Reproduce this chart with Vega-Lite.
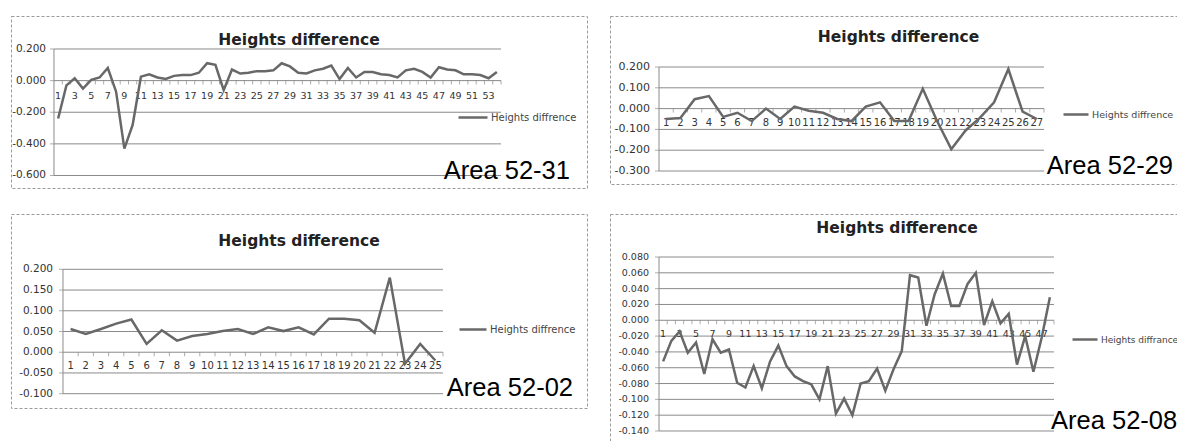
{
  "$schema": "https://vega.github.io/schema/vega-lite/v6.json",
  "background": "white",
  "padding": {"left": 10, "top": 15, "right": 0, "bottom": 0},
  "columns": 2,
  "spacing": {"row": 26, "column": 23},
  "bounds": "flush",
  "datasets": {
    "s1": [{"i":1,"v":-0.24},{"i":2,"v":-0.03},{"i":3,"v":0.015},{"i":4,"v":-0.05},{"i":5,"v":0.005},{"i":6,"v":0.02},{"i":7,"v":0.08},{"i":8,"v":-0.07},{"i":9,"v":-0.43},{"i":10,"v":-0.28},{"i":11,"v":0.025},{"i":12,"v":0.04},{"i":13,"v":0.02},{"i":14,"v":0.01},{"i":15,"v":0.03},{"i":16,"v":0.035},{"i":17,"v":0.035},{"i":18,"v":0.05},{"i":19,"v":0.11},{"i":20,"v":0.10},{"i":21,"v":-0.06},{"i":22,"v":0.07},{"i":23,"v":0.045},{"i":24,"v":0.05},{"i":25,"v":0.06},{"i":26,"v":0.06},{"i":27,"v":0.065},{"i":28,"v":0.11},{"i":29,"v":0.09},{"i":30,"v":0.05},{"i":31,"v":0.045},{"i":32,"v":0.065},{"i":33,"v":0.075},{"i":34,"v":0.095},{"i":35,"v":0.01},{"i":36,"v":0.08},{"i":37,"v":0.02},{"i":38,"v":0.055},{"i":39,"v":0.055},{"i":40,"v":0.04},{"i":41,"v":0.035},{"i":42,"v":0.02},{"i":43,"v":0.065},{"i":44,"v":0.075},{"i":45,"v":0.055},{"i":46,"v":0.02},{"i":47,"v":0.085},{"i":48,"v":0.07},{"i":49,"v":0.065},{"i":50,"v":0.04},{"i":51,"v":0.04},{"i":52,"v":0.035},{"i":53,"v":0.015},{"i":54,"v":0.055}],
    "g1": [{"v":0.2,"t":"0.200"},{"v":0,"t":"0.000"},{"v":-0.2,"t":"-0.200"},{"v":-0.4,"t":"-0.400"},{"v":-0.6,"t":"-0.600"}],
    "s2": [{"i":1,"v":-0.05},{"i":2,"v":-0.045},{"i":3,"v":0.045},{"i":4,"v":0.06},{"i":5,"v":-0.04},{"i":6,"v":-0.02},{"i":7,"v":-0.06},{"i":8,"v":0.0},{"i":9,"v":-0.05},{"i":10,"v":0.01},{"i":11,"v":-0.01},{"i":12,"v":-0.02},{"i":13,"v":-0.05},{"i":14,"v":-0.06},{"i":15,"v":0.01},{"i":16,"v":0.03},{"i":17,"v":-0.06},{"i":18,"v":-0.06},{"i":19,"v":0.095},{"i":20,"v":-0.06},{"i":21,"v":-0.195},{"i":22,"v":-0.105},{"i":23,"v":-0.045},{"i":24,"v":0.03},{"i":25,"v":0.19},{"i":26,"v":-0.015},{"i":27,"v":-0.05}],
    "g2": [{"v":0.2,"t":"0.200"},{"v":0.1,"t":"0.100"},{"v":0,"t":"0.000"},{"v":-0.1,"t":"-0.100"},{"v":-0.2,"t":"-0.200"},{"v":-0.3,"t":"-0.300"}],
    "s3": [{"i":1,"v":0.056},{"i":2,"v":0.044},{"i":3,"v":0.056},{"i":4,"v":0.069},{"i":5,"v":0.079},{"i":6,"v":0.02},{"i":7,"v":0.053},{"i":8,"v":0.028},{"i":9,"v":0.039},{"i":10,"v":0.044},{"i":11,"v":0.051},{"i":12,"v":0.056},{"i":13,"v":0.044},{"i":14,"v":0.06},{"i":15,"v":0.051},{"i":16,"v":0.06},{"i":17,"v":0.043},{"i":18,"v":0.081},{"i":19,"v":0.081},{"i":20,"v":0.077},{"i":21,"v":0.047},{"i":22,"v":0.18},{"i":23,"v":-0.028},{"i":24,"v":0.02},{"i":25,"v":-0.02}],
    "g3": [{"v":0.2,"t":"0.200"},{"v":0.15,"t":"0.150"},{"v":0.1,"t":"0.100"},{"v":0.05,"t":"0.050"},{"v":0,"t":"0.000"},{"v":-0.05,"t":"-0.050"},{"v":-0.1,"t":"-0.100"}],
    "s4": [{"i":1,"v":-0.052},{"i":2,"v":-0.026},{"i":3,"v":-0.014},{"i":4,"v":-0.041},{"i":5,"v":-0.028},{"i":6,"v":-0.068},{"i":7,"v":-0.024},{"i":8,"v":-0.041},{"i":9,"v":-0.037},{"i":10,"v":-0.079},{"i":11,"v":-0.085},{"i":12,"v":-0.058},{"i":13,"v":-0.086},{"i":14,"v":-0.052},{"i":15,"v":-0.032},{"i":16,"v":-0.058},{"i":17,"v":-0.071},{"i":18,"v":-0.077},{"i":19,"v":-0.081},{"i":20,"v":-0.1},{"i":21,"v":-0.058},{"i":22,"v":-0.118},{"i":23,"v":-0.099},{"i":24,"v":-0.12},{"i":25,"v":-0.08},{"i":26,"v":-0.077},{"i":27,"v":-0.061},{"i":28,"v":-0.089},{"i":29,"v":-0.062},{"i":30,"v":-0.039},{"i":31,"v":0.057},{"i":32,"v":0.054},{"i":33,"v":-0.007},{"i":34,"v":0.033},{"i":35,"v":0.059},{"i":36,"v":0.018},{"i":37,"v":0.018},{"i":38,"v":0.046},{"i":39,"v":0.06},{"i":40,"v":-0.006},{"i":41,"v":0.024},{"i":42,"v":-0.004},{"i":43,"v":0.008},{"i":44,"v":-0.056},{"i":45,"v":-0.02},{"i":46,"v":-0.065},{"i":47,"v":-0.022},{"i":48,"v":0.029}],
    "g4": [{"v":0.08,"t":"0.080"},{"v":0.06,"t":"0.060"},{"v":0.04,"t":"0.040"},{"v":0.02,"t":"0.020"},{"v":0,"t":"0.000"},{"v":-0.02,"t":"-0.020"},{"v":-0.04,"t":"-0.040"},{"v":-0.06,"t":"-0.060"},{"v":-0.08,"t":"-0.080"},{"v":-0.1,"t":"-0.100"},{"v":-0.12,"t":"-0.120"},{"v":-0.14,"t":"-0.140"}],
    "one": [{}]
  },
  "concat": [
    {
      "width": 576, "height": 172,
      "view": {"stroke": "#9a9a9a", "strokeDash": [3, 2], "strokeWidth": 1},
      "title": {"text": "Heights difference", "anchor": "middle", "frame": "group", "offset": -44.5, "baseline": "alphabetic", "dx": 0, "font": "DejaVu Sans", "fontSize": 15.5, "fontWeight": "bold", "color": "#222"},
      "layer": [
        {"data": {"name": "g1"}, "mark": {"type": "rule", "color": "#8a8a8a", "strokeWidth": 1},
         "encoding": {"x": {"datum": 0.5, "type": "quantitative", "scale": {"domain": [-4.6946, 64.889], "nice": false, "zero": false}, "axis": null}, "x2": {"datum": 54.5},
                      "y": {"field": "v", "type": "quantitative", "scale": {"domain": [-0.6791, 0.4087], "nice": false, "zero": false}, "axis": null}}},
        {"data": {"name": "one"}, "mark": {"type": "rule", "color": "#8a8a8a", "strokeWidth": 1},
         "encoding": {"x": {"datum": 0.5, "type": "quantitative", "scale": {"domain": [-4.6946, 64.889], "nice": false, "zero": false}, "axis": null},
                      "y": {"datum": 0.2, "type": "quantitative", "scale": {"domain": [-0.6791, 0.4087], "nice": false, "zero": false}, "axis": null}, "y2": {"datum": -0.6}}},
        {"data": {"name": "g1"}, "mark": {"type": "tick", "orient": "horizontal", "size": 4, "thickness": 1, "color": "#8a8a8a", "xOffset": -2},
         "encoding": {"x": {"datum": 0.5, "type": "quantitative", "scale": {"domain": [-4.6946, 64.889], "nice": false, "zero": false}, "axis": null},
                      "y": {"field": "v", "type": "quantitative", "scale": {"domain": [-0.6791, 0.4087], "nice": false, "zero": false}, "axis": null}}},
        {"data": {"name": "g1"}, "mark": {"type": "text", "align": "right", "baseline": "middle", "dx": -8, "font": "DejaVu Sans", "fontSize": 10.5, "color": "#333"},
         "encoding": {"x": {"datum": 0.5, "type": "quantitative", "scale": {"domain": [-4.6946, 64.889], "nice": false, "zero": false}, "axis": null},
                      "y": {"field": "v", "type": "quantitative", "scale": {"domain": [-0.6791, 0.4087], "nice": false, "zero": false}, "axis": null},
                      "text": {"field": "t", "type": "nominal"}}},
        {"data": {"name": "s1"}, "mark": {"type": "tick", "orient": "vertical", "size": 4, "thickness": 1, "color": "#8a8a8a", "xOffset": 4.14, "yOffset": 2},
         "encoding": {"x": {"field": "i", "type": "quantitative", "scale": {"domain": [-4.6946, 64.889], "nice": false, "zero": false}, "axis": null},
                      "y": {"datum": 0, "type": "quantitative", "scale": {"domain": [-0.6791, 0.4087], "nice": false, "zero": false}, "axis": null}}},
        {"data": {"name": "s1"}, "transform": [{"filter": "datum.i % 2 == 1"}],
         "mark": {"type": "text", "align": "center", "baseline": "middle", "dy": 15, "font": "DejaVu Sans", "fontSize": 9.5, "color": "#333"},
         "encoding": {"x": {"field": "i", "type": "quantitative", "scale": {"domain": [-4.6946, 64.889], "nice": false, "zero": false}, "axis": null},
                      "y": {"datum": 0, "type": "quantitative", "scale": {"domain": [-0.6791, 0.4087], "nice": false, "zero": false}, "axis": null},
                      "text": {"field": "i", "type": "nominal"}}},
        {"data": {"name": "one"}, "mark": {"type": "text", "text": "Area 52-31", "align": "right", "baseline": "alphabetic", "font": "Liberation Sans", "fontSize": 25.5, "color": "#000"},
         "encoding": {"x": {"datum": 62.83, "type": "quantitative", "scale": {"domain": [-4.6946, 64.889], "nice": false, "zero": false}, "axis": null},
                      "y": {"datum": -0.622, "type": "quantitative", "scale": {"domain": [-0.6791, 0.4087], "nice": false, "zero": false}, "axis": null}}},
        {"data": {"name": "s1"}, "mark": {"type": "line", "strokeWidth": 2.5},
         "encoding": {"x": {"field": "i", "type": "quantitative", "scale": {"domain": [-4.6946, 64.889], "nice": false, "zero": false}, "axis": null},
                      "y": {"field": "v", "type": "quantitative", "scale": {"domain": [-0.6791, 0.4087], "nice": false, "zero": false}, "axis": null},
                      "color": {"datum": "Heights diffrence", "type": "nominal", "scale": {"range": ["#686868"]},
                                "legend": {"orient": "none", "legendX": 446, "legendY": 85.5, "title": null, "symbolType": "stroke", "symbolSize": 841, "symbolStrokeWidth": 2.5, "labelFont": "DejaVu Sans", "labelFontSize": 10, "labelColor": "#444", "labelOffset": 2, "padding": 0}}}}
      ]
    },
    {
      "width": 568, "height": 168,
      "view": {"stroke": "#9a9a9a", "strokeDash": [3, 2], "strokeWidth": 1},
      "title": {"text": "Heights difference", "anchor": "middle", "frame": "group", "offset": -41.5, "baseline": "alphabetic", "dx": 4.5, "font": "DejaVu Sans", "fontSize": 15.5, "fontWeight": "bold", "color": "#222"},
      "layer": [
        {"data": {"name": "g2"}, "mark": {"type": "rule", "color": "#8a8a8a", "strokeWidth": 1},
         "encoding": {"x": {"datum": 0.5, "type": "quantitative", "scale": {"domain": [-2.9364, 36.8975], "nice": false, "zero": false}, "axis": null}, "x2": {"datum": 27.5},
                      "y": {"field": "v", "type": "quantitative", "scale": {"domain": [-0.3625, 0.4452], "nice": false, "zero": false}, "axis": null}}},
        {"data": {"name": "one"}, "mark": {"type": "rule", "color": "#8a8a8a", "strokeWidth": 1},
         "encoding": {"x": {"datum": 0.5, "type": "quantitative", "scale": {"domain": [-2.9364, 36.8975], "nice": false, "zero": false}, "axis": null},
                      "y": {"datum": 0.2, "type": "quantitative", "scale": {"domain": [-0.3625, 0.4452], "nice": false, "zero": false}, "axis": null}, "y2": {"datum": -0.3}}},
        {"data": {"name": "g2"}, "mark": {"type": "tick", "orient": "horizontal", "size": 4, "thickness": 1, "color": "#8a8a8a", "xOffset": -2},
         "encoding": {"x": {"datum": 0.5, "type": "quantitative", "scale": {"domain": [-2.9364, 36.8975], "nice": false, "zero": false}, "axis": null},
                      "y": {"field": "v", "type": "quantitative", "scale": {"domain": [-0.3625, 0.4452], "nice": false, "zero": false}, "axis": null}}},
        {"data": {"name": "g2"}, "mark": {"type": "text", "align": "right", "baseline": "middle", "dx": -9, "font": "DejaVu Sans", "fontSize": 11, "color": "#333"},
         "encoding": {"x": {"datum": 0.5, "type": "quantitative", "scale": {"domain": [-2.9364, 36.8975], "nice": false, "zero": false}, "axis": null},
                      "y": {"field": "v", "type": "quantitative", "scale": {"domain": [-0.3625, 0.4452], "nice": false, "zero": false}, "axis": null},
                      "text": {"field": "t", "type": "nominal"}}},
        {"data": {"name": "s2"}, "mark": {"type": "tick", "orient": "vertical", "size": 4, "thickness": 1, "color": "#8a8a8a", "xOffset": 7.13, "yOffset": 2},
         "encoding": {"x": {"field": "i", "type": "quantitative", "scale": {"domain": [-2.9364, 36.8975], "nice": false, "zero": false}, "axis": null},
                      "y": {"datum": 0, "type": "quantitative", "scale": {"domain": [-0.3625, 0.4452], "nice": false, "zero": false}, "axis": null}}},
        {"data": {"name": "s2"},
         "mark": {"type": "text", "align": "center", "baseline": "middle", "dy": 14, "font": "DejaVu Sans", "fontSize": 10, "color": "#333"},
         "encoding": {"x": {"field": "i", "type": "quantitative", "scale": {"domain": [-2.9364, 36.8975], "nice": false, "zero": false}, "axis": null},
                      "y": {"datum": 0, "type": "quantitative", "scale": {"domain": [-0.3625, 0.4452], "nice": false, "zero": false}, "axis": null},
                      "text": {"field": "i", "type": "nominal"}}},
        {"data": {"name": "one"}, "mark": {"type": "text", "text": "Area 52-29", "align": "right", "baseline": "alphabetic", "font": "Liberation Sans", "fontSize": 25.5, "color": "#000"},
         "encoding": {"x": {"datum": 36.547, "type": "quantitative", "scale": {"domain": [-2.9364, 36.8975], "nice": false, "zero": false}, "axis": null},
                      "y": {"datum": -0.3144, "type": "quantitative", "scale": {"domain": [-0.3625, 0.4452], "nice": false, "zero": false}, "axis": null}}},
        {"data": {"name": "s2"}, "mark": {"type": "line", "strokeWidth": 2.5},
         "encoding": {"x": {"field": "i", "type": "quantitative", "scale": {"domain": [-2.9364, 36.8975], "nice": false, "zero": false}, "axis": null},
                      "y": {"field": "v", "type": "quantitative", "scale": {"domain": [-0.3625, 0.4452], "nice": false, "zero": false}, "axis": null},
                      "color": {"datum": "Heights diffrence", "type": "nominal", "scale": {"range": ["#686868"]},
                                "legend": {"orient": "none", "legendX": 452, "legendY": 84.5, "title": null, "symbolType": "stroke", "symbolSize": 625, "symbolStrokeWidth": 2.5, "labelFont": "DejaVu Sans", "labelFontSize": 9.5, "labelColor": "#444", "labelOffset": 2, "padding": 0}}}}
      ]
    },
    {
      "width": 576, "height": 194,
      "view": {"stroke": "#9a9a9a", "strokeDash": [3, 2], "strokeWidth": 1},
      "title": {"text": "Heights difference", "anchor": "middle", "frame": "group", "offset": -47.5, "baseline": "alphabetic", "dx": 0, "font": "DejaVu Sans", "fontSize": 15.5, "fontWeight": "bold", "color": "#222"},
      "layer": [
        {"data": {"name": "g3"}, "mark": {"type": "rule", "color": "#8a8a8a", "strokeWidth": 1},
         "encoding": {"x": {"datum": 0.5, "type": "quantitative", "scale": {"domain": [-2.921, 34.974], "nice": false, "zero": false}, "axis": null}, "x2": {"datum": 25.5},
                      "y": {"field": "v", "type": "quantitative", "scale": {"domain": [-0.1345, 0.3334], "nice": false, "zero": false}, "axis": null}}},
        {"data": {"name": "one"}, "mark": {"type": "rule", "color": "#8a8a8a", "strokeWidth": 1},
         "encoding": {"x": {"datum": 0.5, "type": "quantitative", "scale": {"domain": [-2.921, 34.974], "nice": false, "zero": false}, "axis": null},
                      "y": {"datum": 0.2, "type": "quantitative", "scale": {"domain": [-0.1345, 0.3334], "nice": false, "zero": false}, "axis": null}, "y2": {"datum": -0.1}}},
        {"data": {"name": "g3"}, "mark": {"type": "tick", "orient": "horizontal", "size": 4, "thickness": 1, "color": "#8a8a8a", "xOffset": -2},
         "encoding": {"x": {"datum": 0.5, "type": "quantitative", "scale": {"domain": [-2.921, 34.974], "nice": false, "zero": false}, "axis": null},
                      "y": {"field": "v", "type": "quantitative", "scale": {"domain": [-0.1345, 0.3334], "nice": false, "zero": false}, "axis": null}}},
        {"data": {"name": "g3"}, "mark": {"type": "text", "align": "right", "baseline": "middle", "dx": -10, "font": "DejaVu Sans", "fontSize": 10.5, "color": "#333"},
         "encoding": {"x": {"datum": 0.5, "type": "quantitative", "scale": {"domain": [-2.921, 34.974], "nice": false, "zero": false}, "axis": null},
                      "y": {"field": "v", "type": "quantitative", "scale": {"domain": [-0.1345, 0.3334], "nice": false, "zero": false}, "axis": null},
                      "text": {"field": "t", "type": "nominal"}}},
        {"data": {"name": "s3"}, "mark": {"type": "tick", "orient": "vertical", "size": 4, "thickness": 1, "color": "#8a8a8a", "xOffset": 7.6, "yOffset": 2},
         "encoding": {"x": {"field": "i", "type": "quantitative", "scale": {"domain": [-2.921, 34.974], "nice": false, "zero": false}, "axis": null},
                      "y": {"datum": 0, "type": "quantitative", "scale": {"domain": [-0.1345, 0.3334], "nice": false, "zero": false}, "axis": null}}},
        {"data": {"name": "s3"},
         "mark": {"type": "text", "align": "center", "baseline": "middle", "dy": 14, "font": "DejaVu Sans", "fontSize": 10, "color": "#333"},
         "encoding": {"x": {"field": "i", "type": "quantitative", "scale": {"domain": [-2.921, 34.974], "nice": false, "zero": false}, "axis": null},
                      "y": {"datum": 0, "type": "quantitative", "scale": {"domain": [-0.1345, 0.3334], "nice": false, "zero": false}, "axis": null},
                      "text": {"field": "i", "type": "nominal"}}},
        {"data": {"name": "one"}, "mark": {"type": "text", "text": "Area 52-02", "align": "right", "baseline": "alphabetic", "font": "Liberation Sans", "fontSize": 25.5, "color": "#000"},
         "encoding": {"x": {"datum": 34.053, "type": "quantitative", "scale": {"domain": [-2.921, 34.974], "nice": false, "zero": false}, "axis": null},
                      "y": {"datum": -0.1055, "type": "quantitative", "scale": {"domain": [-0.1345, 0.3334], "nice": false, "zero": false}, "axis": null}}},
        {"data": {"name": "s3"}, "mark": {"type": "line", "strokeWidth": 2.5},
         "encoding": {"x": {"field": "i", "type": "quantitative", "scale": {"domain": [-2.921, 34.974], "nice": false, "zero": false}, "axis": null},
                      "y": {"field": "v", "type": "quantitative", "scale": {"domain": [-0.1345, 0.3334], "nice": false, "zero": false}, "axis": null},
                      "color": {"datum": "Heights diffrence", "type": "nominal", "scale": {"range": ["#686868"]},
                                "legend": {"orient": "none", "legendX": 447, "legendY": 100.5, "title": null, "symbolType": "stroke", "symbolSize": 729, "symbolStrokeWidth": 2.5, "labelFont": "DejaVu Sans", "labelFontSize": 10, "labelColor": "#444", "labelOffset": 2, "padding": 0}}}}
      ]
    },
    {
      "width": 568, "height": 228,
      "view": {"stroke": "#9a9a9a", "strokeDash": [3, 2], "strokeWidth": 1},
      "title": {"text": "Heights difference", "anchor": "middle", "frame": "group", "offset": -34.5, "baseline": "alphabetic", "dx": 3, "font": "DejaVu Sans", "fontSize": 15.5, "fontWeight": "bold", "color": "#222"},
      "layer": [
        {"data": {"name": "g4"}, "mark": {"type": "rule", "color": "#8a8a8a", "strokeWidth": 1},
         "encoding": {"x": {"datum": 0.5, "type": "quantitative", "scale": {"domain": [-5.4544, 63.568], "nice": false, "zero": false}, "axis": null}, "x2": {"datum": 48.5},
                      "y": {"field": "v", "type": "quantitative", "scale": {"domain": [-0.15391, 0.13437], "nice": false, "zero": false}, "axis": null}}},
        {"data": {"name": "one"}, "mark": {"type": "rule", "color": "#8a8a8a", "strokeWidth": 1},
         "encoding": {"x": {"datum": 0.5, "type": "quantitative", "scale": {"domain": [-5.4544, 63.568], "nice": false, "zero": false}, "axis": null},
                      "y": {"datum": 0.08, "type": "quantitative", "scale": {"domain": [-0.15391, 0.13437], "nice": false, "zero": false}, "axis": null}, "y2": {"datum": -0.14}}},
        {"data": {"name": "g4"}, "mark": {"type": "tick", "orient": "horizontal", "size": 4, "thickness": 1, "color": "#8a8a8a", "xOffset": -2},
         "encoding": {"x": {"datum": 0.5, "type": "quantitative", "scale": {"domain": [-5.4544, 63.568], "nice": false, "zero": false}, "axis": null},
                      "y": {"field": "v", "type": "quantitative", "scale": {"domain": [-0.15391, 0.13437], "nice": false, "zero": false}, "axis": null}}},
        {"data": {"name": "g4"}, "mark": {"type": "text", "align": "right", "baseline": "middle", "dx": -10, "font": "DejaVu Sans", "fontSize": 9.5, "color": "#333"},
         "encoding": {"x": {"datum": 0.5, "type": "quantitative", "scale": {"domain": [-5.4544, 63.568], "nice": false, "zero": false}, "axis": null},
                      "y": {"field": "v", "type": "quantitative", "scale": {"domain": [-0.15391, 0.13437], "nice": false, "zero": false}, "axis": null},
                      "text": {"field": "t", "type": "nominal"}}},
        {"data": {"name": "s4"}, "mark": {"type": "tick", "orient": "vertical", "size": 4, "thickness": 1, "color": "#8a8a8a", "xOffset": 4.11, "yOffset": 2},
         "encoding": {"x": {"field": "i", "type": "quantitative", "scale": {"domain": [-5.4544, 63.568], "nice": false, "zero": false}, "axis": null},
                      "y": {"datum": 0, "type": "quantitative", "scale": {"domain": [-0.15391, 0.13437], "nice": false, "zero": false}, "axis": null}}},
        {"data": {"name": "s4"}, "transform": [{"filter": "datum.i % 2 == 1"}],
         "mark": {"type": "text", "align": "center", "baseline": "middle", "dy": 14, "font": "DejaVu Sans", "fontSize": 9.5, "color": "#333"},
         "encoding": {"x": {"field": "i", "type": "quantitative", "scale": {"domain": [-5.4544, 63.568], "nice": false, "zero": false}, "axis": null},
                      "y": {"datum": 0, "type": "quantitative", "scale": {"domain": [-0.15391, 0.13437], "nice": false, "zero": false}, "axis": null},
                      "text": {"field": "i", "type": "nominal"}}},
        {"data": {"name": "one"}, "mark": {"type": "text", "text": "Area 52-08", "align": "left", "baseline": "alphabetic", "font": "Liberation Sans", "fontSize": 25.5, "color": "#000", "clip": true},
         "encoding": {"x": {"datum": 48.135, "type": "quantitative", "scale": {"domain": [-5.4544, 63.568], "nice": false, "zero": false}, "axis": null},
                      "y": {"datum": -0.13747, "type": "quantitative", "scale": {"domain": [-0.15391, 0.13437], "nice": false, "zero": false}, "axis": null}}},
        {"data": {"name": "s4"}, "mark": {"type": "line", "strokeWidth": 2.5},
         "encoding": {"x": {"field": "i", "type": "quantitative", "scale": {"domain": [-5.4544, 63.568], "nice": false, "zero": false}, "axis": null},
                      "y": {"field": "v", "type": "quantitative", "scale": {"domain": [-0.15391, 0.13437], "nice": false, "zero": false}, "axis": null},
                      "color": {"datum": "Heights diffrance", "type": "nominal", "scale": {"range": ["#686868"]},
                                "legend": {"orient": "none", "legendX": 461, "legendY": 111.5, "title": null, "symbolType": "stroke", "symbolSize": 625, "symbolStrokeWidth": 2.5, "labelFont": "DejaVu Sans", "labelFontSize": 9, "labelColor": "#444", "labelOffset": 2, "padding": 0}}}}
      ]
    }
  ],
  "resolve": {"scale": {"color": "independent"}, "legend": {"color": "independent"}}
}
